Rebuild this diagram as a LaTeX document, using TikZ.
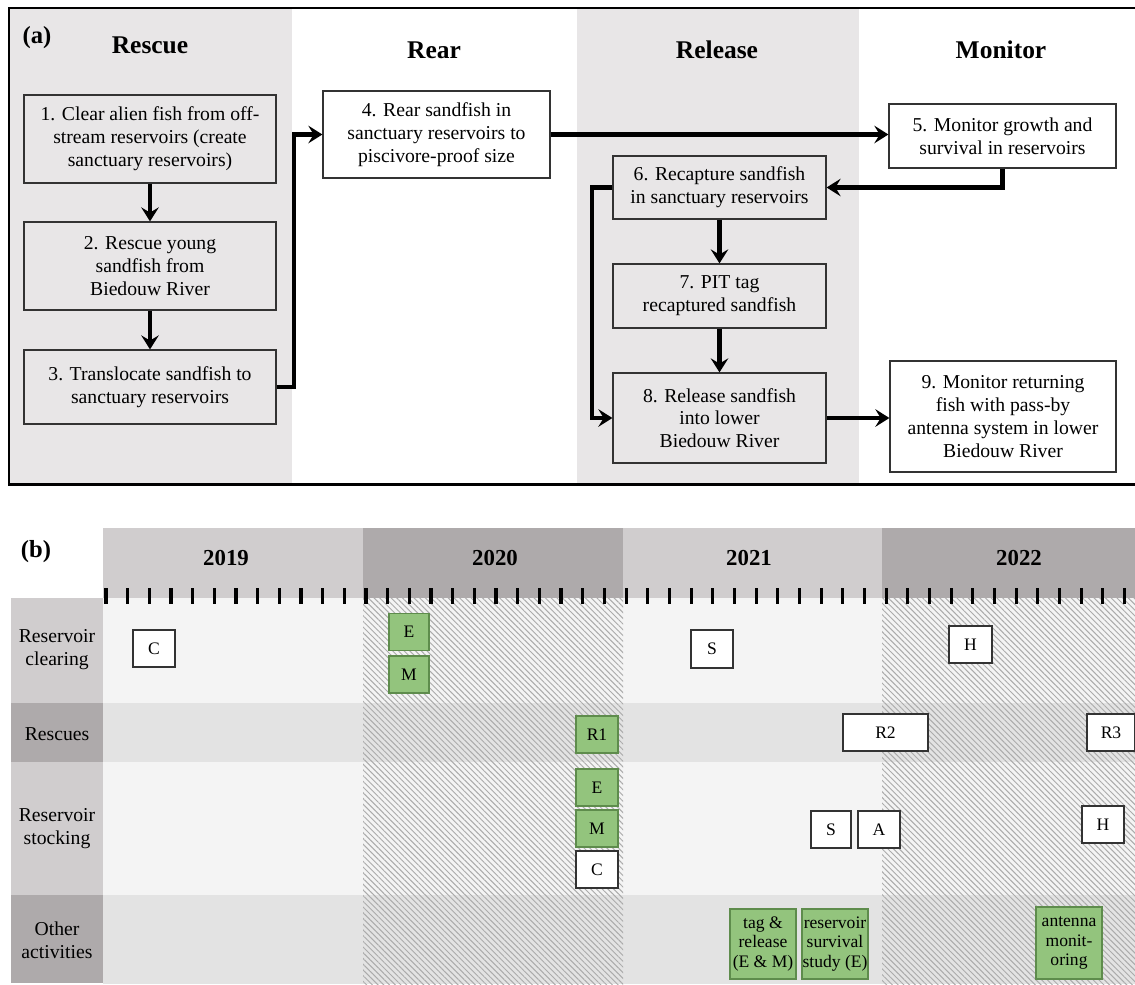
\documentclass[tikz,border=0pt]{standalone}
\usepackage{fontspec}
\setmainfont{Liberation Serif}
\usetikzlibrary{arrows.meta,patterns.meta}
\definecolor{bgA}{HTML}{E8E6E7}
\definecolor{hdrL}{HTML}{D0CDCE}
\definecolor{hdrD}{HTML}{AEAAAB}
\definecolor{rowL}{HTML}{F4F4F4}
\definecolor{rowD}{HTML}{E3E3E3}
\definecolor{gfill}{HTML}{93C47D}
\definecolor{gdraw}{HTML}{5E8C4C}
\definecolor{bdr}{HTML}{333333}
\definecolor{hatchc}{HTML}{ABABAB}
\begin{document}
\begin{tikzpicture}[x=0.02cm,y=-0.02cm,
  sz/.style 2 args={minimum width=#1*0.2mm,minimum height=#2*0.2mm},
  abox/.style={draw=bdr,line width=0.7pt,align=center,inner sep=0pt,
    font=\fontsize{11.2pt}{13pt}\selectfont},
  gbox/.style={abox,fill=bgA},
  wbox/.style={abox,fill=white},
  flow/.style={line width=2.3pt,line cap=butt,-{Stealth[length=8pt,width=10pt,inset=3pt]}},
  head/.style={font=\fontsize{14.5pt}{16pt}\selectfont\bfseries,anchor=base},
  plabel/.style={font=\fontsize{14pt}{16pt}\selectfont\bfseries},
  year/.style={font=\fontsize{13pt}{15pt}\selectfont\bfseries},
  rowlab/.style={align=center,font=\fontsize{11.2pt}{13pt}\selectfont},
  lbox/.style={draw=bdr,line width=0.9pt,fill=white,align=center,inner sep=0pt,
    font=\fontsize{10pt}{11pt}\selectfont},
  gtbox/.style={lbox,draw=gdraw,fill=gfill},
  hatch/.style={pattern={Lines[angle=-45,distance=2.3pt,line width=0.55pt]},pattern color=hatchc}
]
\useasboundingbox (0,0) rectangle (1135,984);
\fill[white] (0,0) rectangle (1135,984);

% ---------------- panel (a) ----------------
\fill[bgA] (9,8) rectangle (292,484);
\fill[bgA] (577,8) rectangle (859,484);
\draw[line width=1.7pt] (1150,8) -- (9,8) -- (9,484) -- (1150,484);

\node[plabel] (pa) at (37,38) {(a)};
\node[head] (hRescue) at (150,53) {Rescue};
\node[head] (hRear) at (434,58) {Rear};
\node[head] (hRelease) at (717,58) {Release};
\node[head] (hMonitor) at (1001,58) {Monitor};

\node[gbox,sz={252}{88}] (b1) at (150,139) {1. Clear alien fish from off-\\stream reservoirs (create\\sanctuary reservoirs)};
\node[gbox,sz={252}{88}] (b2) at (150,266) {2. Rescue young\\sandfish from\\Biedouw River};
\node[gbox,sz={252}{74}] (b3) at (150,387) {3. Translocate sandfish to\\sanctuary reservoirs};
\node[wbox,sz={227}{87}] (b4) at (436.5,134.5) {4. Rear sandfish in\\sanctuary reservoirs to\\piscivore-proof size};
\node[wbox,sz={227}{64}] (b5) at (1002.5,136) {5. Monitor growth and\\survival in reservoirs};
\node[gbox,sz={213}{63}] (b6) at (719.5,187.5) {6. Recapture sandfish\\in sanctuary reservoirs};
\node[gbox,sz={213}{64}] (b7) at (719.5,296) {7. PIT tag\\recaptured sandfish};
\node[gbox,sz={213}{90}] (b8) at (719.5,418) {8. Release sandfish\\into lower\\Biedouw River};
\node[wbox,sz={226}{111}] (b9) at (1003,416.5) {9. Monitor returning\\fish with pass-by\\antenna system in lower\\Biedouw River};

\draw[flow] (b1) -- (b2);
\draw[flow] (b2) -- (b3);
\draw[flow] (b3.east) -- ++(17,0) |- (b4.west);
\draw[flow] (b4.east) -- (b4.east -| b5.west);
\draw[flow] (b5.south) |- (b6.east);
\draw[flow] (b6) -- (b7);
\draw[flow] (b7) -- (b8);
\draw[flow] (b6.west) -- ++(-20,0) |- (b8.west);
\draw[flow] (b8.east) -- (b8.east -| b9.west);

% ---------------- panel (b) ----------------
\node[plabel] (pb) at (36,552) {(b)};
% header bands
\fill[hdrL] (103,528) rectangle (363,598);
\fill[hdrD] (363,528) rectangle (623,598);
\fill[hdrL] (623,528) rectangle (882,598);
\fill[hdrD] (882,528) rectangle (1135,598);
\node[year] (y19) at (226,558) {2019};
\node[year] (y20) at (495,558) {2020};
\node[year] (y21) at (749,558) {2021};
\node[year] (y22) at (1019,558) {2022};
% row bands
\fill[rowL] (103,598) rectangle (1135,703);
\fill[rowD] (103,703) rectangle (1135,762);
\fill[rowL] (103,762) rectangle (1135,895);
\fill[rowD] (103,895) rectangle (1135,984);
\fill[hatch] (363,598) rectangle (623,984);
\fill[hatch] (882,598) rectangle (1135,984);
% label column
\fill[hdrL] (11,598) rectangle (103,703);
\fill[hdrD] (11,703) rectangle (103,762);
\fill[hdrL] (11,762) rectangle (103,895);
\fill[hdrD] (11,895) rectangle (103,983);
\node[rowlab] (l1) at (57,650) {Reservoir\\clearing};
\node[rowlab] (l2) at (57,734) {Rescues};
\node[rowlab] (l3) at (57,829) {Reservoir\\stocking};
\node[rowlab] (l4) at (57,940) {Other\\activities};
% month ticks
\foreach \k in {0,...,47}
  \draw[line width=1.8pt] ({106+21.67*\k},588) -- ({106+21.67*\k},604);

% event boxes
\node[lbox,sz={42}{37}] (c1) at (154,648.5) {C};
\node[gtbox,sz={40}{37}] (e1) at (409,632) {E};
\node[gtbox,sz={40}{37}] (m1) at (409,674.5) {M};
\node[lbox,sz={42}{38}] (s1) at (712,649) {S};
\node[lbox,sz={43}{37}] (h1) at (970.5,644.5) {H};
\node[gtbox,sz={42}{37}] (r1) at (597,734.5) {R1};
\node[lbox,sz={85}{37}] (r2) at (885.5,732.5) {R2};
\node[lbox,sz={48}{37}] (r3) at (1111,732.5) {R3};
\node[gtbox,sz={42}{37}] (e2) at (597,787.5) {E};
\node[gtbox,sz={42}{37}] (m2) at (597,828.5) {M};
\node[lbox,sz={42}{37}] (c2) at (597,869.5) {C};
\node[lbox,sz={40}{37}] (s2) at (831,829.5) {S};
\node[lbox,sz={42}{37}] (a2) at (879,829.5) {A};
\node[lbox,sz={42}{37}] (h2) at (1103,824.5) {H};
\node[gtbox,sz={66}{70}] (tr) at (763,944) {tag \&\\release\\(E \& M)};
\node[gtbox,sz={66}{70}] (rs) at (835,944) {reservoir\\survival\\study (E)};
\node[gtbox,sz={66}{72}] (am) at (1069,943) {antenna\\monit-\\oring};
\end{tikzpicture}
\end{document}
